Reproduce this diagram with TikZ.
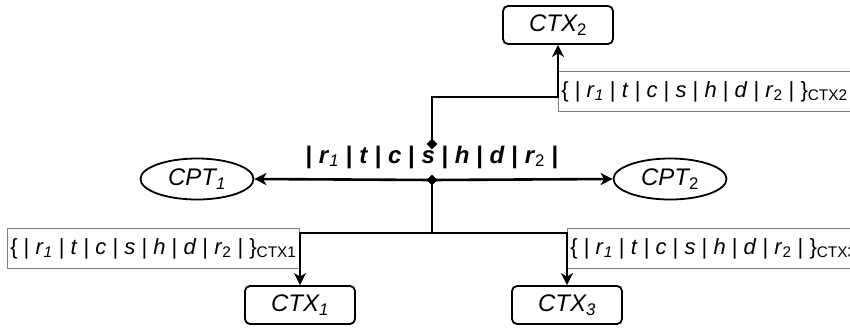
\documentclass[tikz,border=0pt]{standalone}
\usepackage{fontspec}
\setmainfont{Liberation Sans}
\usetikzlibrary{arrows.meta,shapes.geometric}
\newcommand\seqtext[1]{\{ | \textit{r}\textsubscript{\textit{1}} | \textit{t} | \textit{c} | \textit{s} | \textit{h} | \textit{d} | \textit{r}\textsubscript{2} | \}\textsubscript{#1}}
\begin{document}
\begin{tikzpicture}[x=1pt,y=-1pt,
 box/.style={draw, rounded corners=5pt, line width=1.8pt, minimum width=110pt, minimum height=38pt, inner sep=0pt, font=\fontsize{24}{28}\selectfont\itshape},
 ell/.style={draw, ellipse, line width=1.8pt, minimum width=113pt, minimum height=41pt, inner sep=0pt, font=\fontsize{24}{28}\selectfont\itshape},
 conn/.style={line width=2.6pt},
 arr/.style={conn, -{Stealth[length=12pt,width=12pt,inset=3.5pt]}},
 lab/.style={draw=gray, line width=0.9pt, fill=white, minimum height=40pt, inner sep=3pt, font=\fontsize{22}{26}\selectfont},
 seqfont/.style={font=\fontsize{24}{28}\selectfont\bfseries},
 dia/.style={diamond, fill=black, inner sep=0pt, minimum size=11pt}]
\useasboundingbox (0,0) rectangle (850,327);
\node[box] (ctx2) at (558,25) {CTX\textsubscript{\upshape 2}};
\node[box] (ctx1) at (300,305) {CTX\textsubscript{1}};
\node[box] (ctx3) at (567,305) {CTX\textsubscript{3}};
\node[ell] (cpt1) at (197,179) {CPT\textsubscript{1}};
\node[ell] (cpt2) at (670,179) {CPT\textsubscript{\upshape 2}};
\node[seqfont] (seq) at (432,157) {| \textit{r}\textsubscript{\mdseries\itshape 1} | \textit{t} | \textit{c} | \textit{s} | \textit{h} | \textit{d} | \textit{r}\textsubscript{\mdseries 2} |};
\node[lab, anchor=north east] (l1) at (300,228) {\seqtext{CTX1}};
\node[lab, anchor=north west] (l3) at (567,228) {\seqtext{CTX3}};
\node[lab, anchor=north west] (l2) at (558,71) {\seqtext{CTX2}};
\coordinate (t1) at (432,97);
\coordinate (t2) at (558,97);
\coordinate (b1) at (432,233);
\coordinate (b2) at (300,233);
\coordinate (b3) at (567,233);
\coordinate (j0) at (432,180);
\coordinate (j1) at (432,144);
\draw[arr] (j1) -- (t1) -- (t2) -- (ctx2.south);
\draw[arr] (j0) -- (cpt1.east);
\draw[arr] (j0) -- (cpt2.west);
\draw[conn] (j0) -- (b1);
\draw[arr] (b1) -- (b2) -- (ctx1.north);
\draw[arr] (b1) -- (b3) -- (ctx3.north);
\node[dia] (d1) at (j1) {};
\node[dia] (d0) at (j0) {};
\end{tikzpicture}
\end{document}
